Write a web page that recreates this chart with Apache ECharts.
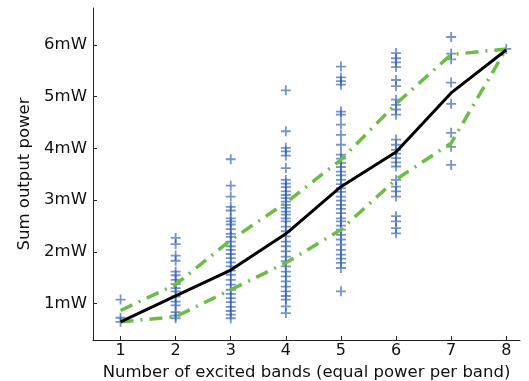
<!DOCTYPE html>
<html>
<head>
<meta charset="utf-8">
<script src="https://cdn.jsdelivr.net/npm/echarts@6/dist/echarts.min.js"></script>
<style>html,body{margin:0;padding:0;background:#fff;}#c{width:529px;height:381px;}</style>
</head>
<body>
<div id="c"></div>
<script>
var bands = [1, 2, 3, 4, 5, 6, 7, 8];
var yTicks = [1, 2, 3, 4, 5, 6];
var samples1 = [1.08, 0.73, 0.65];
var samples2 = [2.27, 2.15, 1.93, 1.83, 1.62, 1.55, 1.46, 1.38, 1.30, 1.24, 1.14, 1.04, 0.97, 0.84, 0.77, 0.72];
var samples3 = [3.79, 3.28, 3.07, 2.87, 2.80, 2.65, 2.59, 2.53, 2.44, 2.35, 2.29, 2.20, 2.11, 2.04, 1.96, 1.88, 1.80, 1.72, 1.64, 1.56, 1.46, 1.37, 1.27, 1.19, 1.11, 1.03, 0.94, 0.86, 0.79, 0.72];
var samples4 = [5.12, 4.33, 4.01, 3.94, 3.86, 3.62, 3.39, 3.32, 3.25, 3.17, 3.10, 3.04, 2.97, 2.91, 2.85, 2.78, 2.72, 2.65, 2.59, 2.49, 2.40, 2.30, 2.20, 2.11, 2.01, 1.91, 1.82, 1.72, 1.62, 1.53, 1.43, 1.33, 1.24, 1.15, 1.08, 0.95, 0.82];
var samples5 = [5.58, 5.37, 5.30, 5.23, 4.71, 4.65, 4.46, 4.26, 4.07, 3.88, 3.80, 3.72, 3.64, 3.55, 3.48, 3.39, 3.31, 3.23, 3.16, 3.07, 2.99, 2.91, 2.83, 2.75, 2.65, 2.59, 2.51, 2.43, 2.33, 2.24, 2.14, 2.04, 1.95, 1.87, 1.79, 1.69, 1.24];
var samples6 = [5.84, 5.74, 5.66, 5.57, 5.32, 5.20, 4.94, 4.84, 4.75, 4.65, 4.17, 4.07, 3.97, 3.90, 3.81, 3.73, 3.65, 3.39, 3.26, 3.17, 3.07, 2.69, 2.59, 2.46, 2.36];
var samples7 = [6.15, 5.83, 5.72, 5.27, 4.86, 4.30, 4.03, 3.68];
var samples8 = [5.92];
var meanPower = [0.65, 1.15, 1.65, 2.35, 3.26, 3.93, 5.07, 5.90];
var upperPower = [0.87, 1.37, 2.23, 2.95, 3.78, 4.86, 5.81, 5.92];
var lowerPower = [0.65, 0.75, 1.27, 1.79, 2.43, 3.40, 4.10, 5.92];

var allSamples = [samples1, samples2, samples3, samples4, samples5, samples6, samples7, samples8];
var scatterData = [];
allSamples.forEach(function (arr, i) {
  arr.forEach(function (v) { scatterData.push([bands[i], v]); });
});
function pairs(arr) { return arr.map(function (v, i) { return [bands[i], v]; }); }

var FONT = 'DejaVu Sans';
var chart = echarts.init(document.getElementById('c'), null, { renderer: 'canvas' });
chart.setOption({
  animation: false,
  backgroundColor: '#fff',
  grid: { left: 93, right: 9, top: 8, bottom: 41, containLabel: false, outerBoundsMode: 'none' },
  xAxis: {
    type: 'value', min: 0.5, max: 8.25,
    name: 'Number of excited bands (equal power per band)',
    nameLocation: 'middle', nameGap: 19,
    nameTextStyle: { fontFamily: FONT, fontSize: 16.5, color: '#111' },
    axisLine: { show: true, lineStyle: { color: '#222', width: 1 } },
    axisTick: { show: true, inside: true, length: 4, customValues: bands, lineStyle: { color: '#222' } },
    axisLabel: { customValues: bands, margin: 3, fontFamily: FONT, fontSize: 16, color: '#111' },
    splitLine: { show: false }
  },
  yAxis: {
    type: 'value', min: 0.3, max: 6.71,
    name: 'Sum output power',
    nameLocation: 'middle', nameGap: 52,
    nameTextStyle: { fontFamily: FONT, fontSize: 16.5, color: '#111' },
    axisLine: { show: true, lineStyle: { color: '#222', width: 1 } },
    axisTick: { show: true, inside: true, length: 4, customValues: yTicks, lineStyle: { color: '#222' } },
    axisLabel: { customValues: yTicks, margin: 6, fontFamily: FONT, fontSize: 16.5, color: '#111',
      formatter: function (v) { return v + 'mW'; } },
    splitLine: { show: false }
  },
  series: [
    {
      type: 'scatter', data: scatterData,
      symbol: 'path://M0,4.1H10V5.9H0Z M4.1,0H5.9V10H4.1Z',
      symbolSize: [10, 10],
      itemStyle: { color: 'rgba(40,88,172,0.8)' },
      z: 2
    },
    {
      type: 'line', data: pairs(upperPower), symbol: 'none',
      lineStyle: { color: '#6cbd45', width: 3.5, type: [13, 7, 2, 7] }, z: 3
    },
    {
      type: 'line', data: pairs(lowerPower), symbol: 'none',
      lineStyle: { color: '#6cbd45', width: 3.5, type: [13, 7, 2, 7] }, z: 3
    },
    {
      type: 'line', data: pairs(meanPower), symbol: 'none',
      lineStyle: { color: '#000', width: 3 }, z: 4
    }
  ]
});
</script>
</body>
</html>
